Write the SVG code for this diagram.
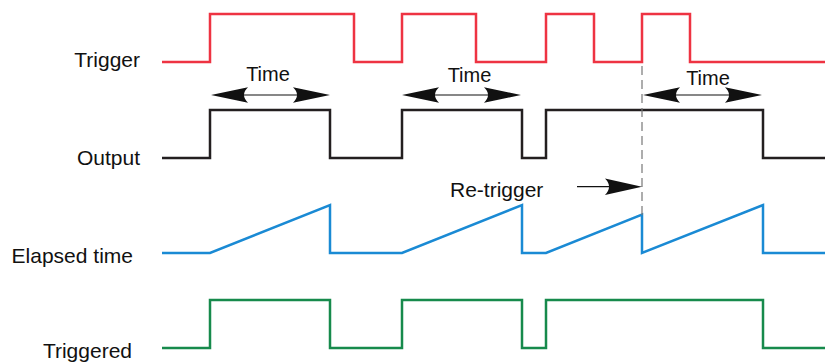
<svg xmlns="http://www.w3.org/2000/svg" width="825" height="362" viewBox="0 0 825 362">
<style>
.lbl{font-family:"Liberation Sans",Arial,sans-serif;font-size:21px;fill:#111}
.tm{font-family:"Liberation Sans",Arial,sans-serif;font-size:20px;fill:#111;text-anchor:middle}
.sig{fill:none;stroke-width:2.5;stroke-linejoin:miter;stroke-linecap:butt}
.thin{fill:none;stroke:#111;stroke-width:1.2}
.head{fill:#111}
</style>
<rect width="825" height="362" fill="#fff"/>
<g id="labels">
<text class="lbl" x="140" y="67" text-anchor="end">Trigger</text>
<text class="lbl" x="140" y="165" text-anchor="end">Output</text>
<text class="lbl" x="133" y="263" text-anchor="end">Elapsed time</text>
<text class="lbl" x="132" y="358" text-anchor="end">Triggered</text>
</g>
<g id="trigger">
<path class="sig" stroke="#ee3342" d="M162,62 H210 V14 H354 V62 H402 V14 H476 V62 H546 V14 H594 V62 H642 V14 H690 V62 H825"/>
</g>
<g id="output">
<path class="sig" stroke="#231f20" d="M162,158 H210 V110 H330 V158 H402 V110 H522 V158 H546 V110 H763 V158 H825"/>
</g>
<g id="elapsed">
<path class="sig" stroke="#1a8ad4" d="M162,253 H210 L330,205 V253 H402 L522,205 V253 H546 L642,214.6 V253 L763,205 V253 H825"/>
</g>
<g id="triggered">
<path class="sig" stroke="#178a4c" d="M162,348 H210 V300 H330 V348 H402 V300 H522 V348 H546 V300 H763 V348 H825"/>
</g>
<g id="connectors">
<line x1="642" y1="66" x2="642" y2="215" stroke="#777" stroke-width="1.2" stroke-dasharray="9,5"/>
<!-- Time arrow 1 -->
<line class="thin" x1="240" y1="95" x2="300" y2="95"/>
<path class="head" d="M211,95 L248,87.3 Q240,95 248,102.7 Z"/>
<path class="head" d="M330,95 L293,87.3 Q301,95 293,102.7 Z"/>
<!-- Time arrow 2 -->
<line class="thin" x1="432" y1="95" x2="490" y2="95"/>
<path class="head" d="M402,95 L439,87.3 Q431,95 439,102.7 Z"/>
<path class="head" d="M521,95 L484,87.3 Q492,95 484,102.7 Z"/>
<!-- Time arrow 3 -->
<line class="thin" x1="673" y1="95" x2="732" y2="95"/>
<path class="head" d="M643,95 L680,87.3 Q672,95 680,102.7 Z"/>
<path class="head" d="M762,95 L725,87.3 Q733,95 725,102.7 Z"/>
<!-- Re-trigger arrow -->
<line class="thin" x1="577" y1="186.7" x2="612" y2="186.7"/>
<path class="head" d="M642,186.7 L605,178.5 Q613,186.7 605,195 Z"/>
</g>
<g id="texts">
<text class="tm" x="268" y="81">Time</text>
<text class="tm" x="469.5" y="82">Time</text>
<text class="tm" x="708" y="85">Time</text>
<text class="lbl" x="450" y="197">Re-trigger</text>
</g>
</svg>
